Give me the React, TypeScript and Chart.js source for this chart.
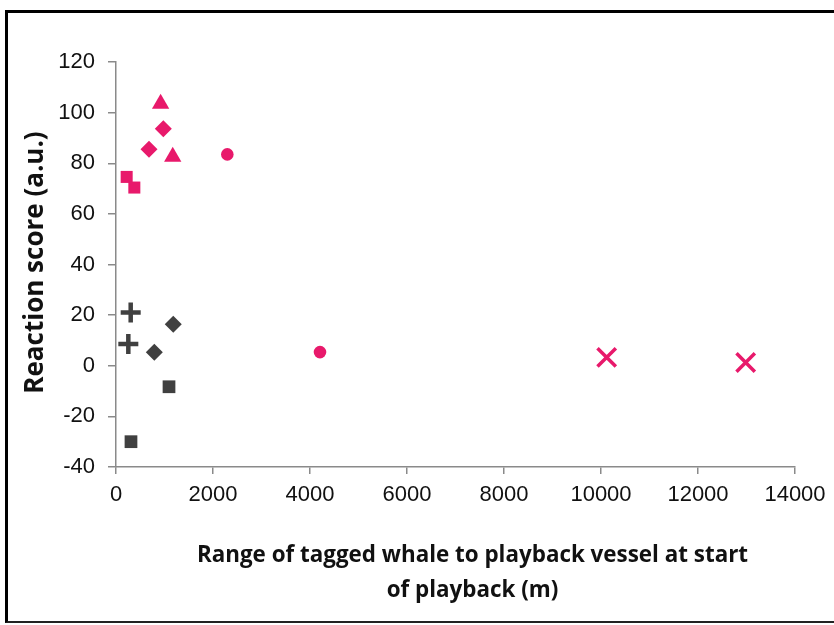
import React, { useEffect, useRef } from 'react';
import { Chart, registerables } from 'chart.js';
Chart.register(...registerables);

const PINK = '#E8196B';
const DARK = '#404040';

const pinkSquares = [{ x: 220, y: 74.6 }, { x: 378, y: 70.4 }];
const pinkDiamonds = [{ x: 680, y: 85.5 }, { x: 975, y: 93.6 }];
const pinkTriangles = [{ x: 920, y: 103.5 }, { x: 1170, y: 82.6 }];
const pinkCircles = [{ x: 2295, y: 83.5 }, { x: 4206, y: 5.4 }];
const pinkCrosses = [{ x: 10117, y: 3.3 }, { x: 12983, y: 1.3 }];
const darkPlus = [{ x: 303, y: 21 }, { x: 254, y: 8.6 }];
const darkDiamonds = [{ x: 1181, y: 16.4 }, { x: 790, y: 5.3 }];
const darkSquares = [{ x: 1093, y: -8.3 }, { x: 309, y: -30 }];

const xTitle = ['Range of tagged whale to playback vessel at start', 'of playback (m)'];
const yTitle = 'Reaction score (a.u.)';
const xMin = 0, xMax = 14000, xStep = 2000;
const yMin = -40, yMax = 120, yStep = 20;

export default function App() {
  const ref = useRef<HTMLCanvasElement>(null);
  useEffect(() => {
    document.body.style.margin = '0';
    const ds = (data: any[], color: string, style: string, radius: number, bw = 0) => ({
      data,
      pointStyle: style,
      pointRadius: radius,
      pointHoverRadius: radius,
      backgroundColor: color,
      borderColor: color,
      borderWidth: bw,
      showLine: false,
    });
    const shiftTitle = (s: any, dx: number, dy: number) => {
      if (s.__shifted) return;
      s.__shifted = true;
      const orig = s.drawTitle;
      s.drawTitle = function (...args: any[]) {
        const ctx = this.ctx;
        ctx.save();
        ctx.translate(dx, dy);
        orig.apply(this, args);
        ctx.restore();
      };
    };
    const tickFont = { family: 'Liberation Sans, Arial', size: 22 };
    const chart = new Chart(ref.current!, {
      type: 'scatter',
      data: {
        datasets: [
          ds(pinkSquares, PINK, 'rect', 8.5),
          ds(pinkDiamonds, PINK, 'rectRot', 8.5),
          ds(pinkTriangles, PINK, 'triangle', 10),
          ds(pinkCircles, PINK, 'circle', 6.3),
          ds(pinkCrosses, PINK, 'crossRot', 13, 3.5),
          ds(darkPlus, DARK, 'cross', 10, 4.5),
          ds(darkDiamonds, DARK, 'rectRot', 8.5),
          ds(darkSquares, DARK, 'rect', 9),
        ] as any,
      },
      options: {
        responsive: false,
        animation: false,
        plugins: { legend: { display: false }, tooltip: { enabled: false } },
        layout: { padding: { left: 20, right: 39, top: 62, bottom: 0 } },
        scales: {
          x: {
            type: 'linear',
            min: xMin,
            max: xMax,
            afterFit: (s: any) => { s.height = 625 - 467; shiftTitle(s, 17, -16); },
            ticks: { stepSize: xStep, color: '#111', padding: 8, font: tickFont, callback: (v: any) => String(v) },
            grid: { display: true, drawOnChartArea: false, tickLength: 7, color: '#8a8a8a', lineWidth: 1.5 },
            border: { color: '#8a8a8a', width: 1.5 },
            title: {
              display: true,
              text: xTitle,
              color: '#111',
              font: { family: 'Open Sans', size: 22.4, weight: 'bold', lineHeight: 1.6 },
              padding: { top: 14, bottom: 0 },
            },
          },
          y: {
            type: 'linear',
            min: yMin,
            max: yMax,
            afterFit: (s: any) => { s.width = 116 - 20; shiftTitle(s, 0, -2); },
            ticks: { stepSize: yStep, color: '#111', padding: 13, font: tickFont },
            grid: { display: true, drawOnChartArea: false, tickLength: 8, color: '#8a8a8a', lineWidth: 1.5 },
            border: { color: '#8a8a8a', width: 1.5 },
            title: {
              display: true,
              text: yTitle,
              color: '#111',
              font: { family: 'Open Sans', size: 26, weight: 'bold', lineHeight: 1.2 },
              padding: 0,
            },
          },
        },
      } as any,
    });
    return () => chart.destroy();
  }, []);
  return (
    <div style={{ position: 'relative', width: 834, height: 625, background: '#fff', overflow: 'hidden' }}>
      <canvas ref={ref} width={834} height={625} style={{ position: 'absolute', left: 0, top: 0 }} />
      <div style={{ position: 'absolute', left: 5, top: 10, width: 840, height: 608, borderTop: '3px solid #000', borderLeft: '3px solid #000', borderBottom: '2px solid #222', pointerEvents: 'none' }} />
    </div>
  );
}
